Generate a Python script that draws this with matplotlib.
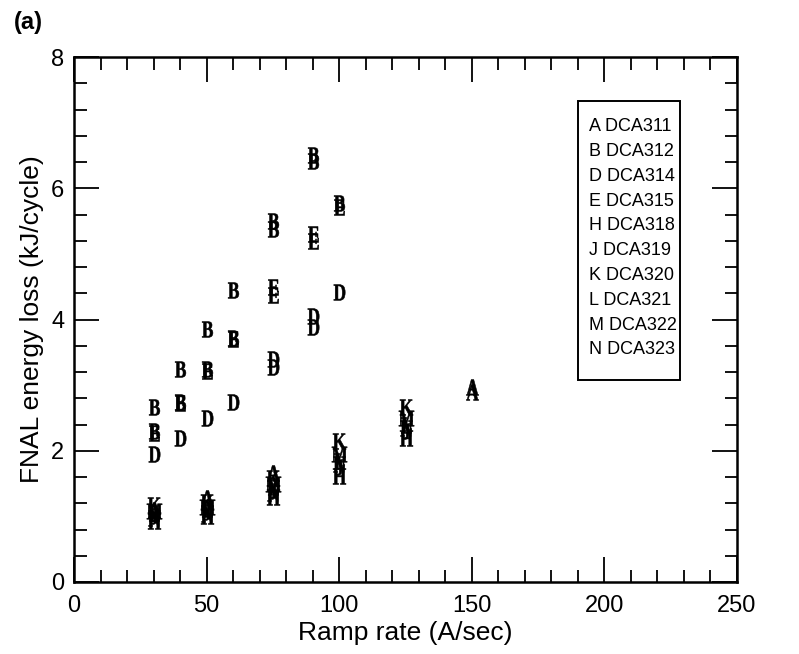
import numpy as np
import matplotlib.pyplot as plt
from matplotlib.ticker import MultipleLocator
from matplotlib.patches import Rectangle
from matplotlib.textpath import TextPath
from matplotlib.font_manager import FontProperties
from matplotlib.transforms import Affine2D

# letter marker -> magnet name
series_letters = ['A', 'B', 'D', 'E', 'H', 'J', 'K', 'L', 'M', 'N']
series_names = ['DCA311', 'DCA312', 'DCA314', 'DCA315', 'DCA318',
                'DCA319', 'DCA320', 'DCA321', 'DCA322', 'DCA323']

# ramp rate (A/sec) and energy loss (kJ/cycle) per magnet
a_x = [30, 50, 75, 150, 150]
a_y = [1.10, 1.28, 1.66, 2.97, 2.90]
b_x = [30, 30, 40, 40, 50, 50, 60, 60, 75, 75, 90, 90, 100]
b_y = [2.66, 2.30, 3.25, 2.75, 3.85, 3.25, 4.45, 3.72, 5.50, 5.38, 6.50, 6.42, 5.78]
d_x = [30, 40, 50, 60, 75, 75, 90, 90, 100]
d_y = [1.95, 2.20, 2.50, 2.75, 3.40, 3.28, 4.05, 3.88, 4.42]
e_x = [30, 40, 50, 60, 75, 75, 90, 90, 100]
e_y = [2.27, 2.73, 3.22, 3.70, 4.50, 4.38, 5.30, 5.20, 5.72]
h_x = [30, 50, 75, 100, 125]
h_y = [0.93, 1.00, 1.30, 1.62, 2.20]
j_x = [30, 50, 75, 100, 125]
j_y = [1.00, 1.07, 1.38, 1.75, 2.30]
k_x = [30, 50, 75, 100, 125]
k_y = [1.17, 1.22, 1.58, 2.15, 2.66]
l_x = [30, 50, 75, 100, 125]
l_y = [1.05, 1.12, 1.45, 1.85, 2.40]
m_x = [30, 50, 75, 100, 125]
m_y = [1.08, 1.15, 1.50, 1.95, 2.50]
n_x = [30, 50, 75, 100, 125]
n_y = [0.98, 1.04, 1.35, 1.80, 2.35]

all_x = [a_x, b_x, d_x, e_x, h_x, j_x, k_x, l_x, m_x, n_x]
all_y = [a_y, b_y, d_y, e_y, h_y, j_y, k_y, l_y, m_y, n_y]

plt.rcParams['font.family'] = ['Liberation Sans', 'DejaVu Sans']

serif_bold = FontProperties(family='Liberation Serif', weight='bold')

def letter_marker(letter):
  """Narrow bold serif letter as a marker path"""
  p = TextPath((0, 0), letter, size=1, prop=serif_bold)
  ext = p.get_extents()
  cx = (ext.x0 + ext.x1) / 2
  cy = (ext.y0 + ext.y1) / 2
  return p.transformed(Affine2D().translate(-cx, -cy).scale(0.72, 1.0))

fig = plt.figure(figsize=(7.99, 6.54), dpi=100)
ax = fig.add_axes([74/799, 1 - 582/654, 663/799, 525/654])

for letter, xs, ys in zip(series_letters, all_x, all_y):
  ax.scatter(xs, ys, marker=letter_marker(letter), s=130, color='black',
             linewidths=0.4, edgecolors='black', zorder=3)

ax.set_xlim(0, 250)
ax.set_ylim(0, 8)
ax.xaxis.set_major_locator(MultipleLocator(50))
ax.xaxis.set_minor_locator(MultipleLocator(10))
ax.yaxis.set_major_locator(MultipleLocator(2))
ax.yaxis.set_minor_locator(MultipleLocator(0.4))
ax.tick_params(which='both', direction='in', top=True, right=True, width=1.3)
ax.tick_params(which='major', length=18, labelsize=17)
ax.tick_params(axis='x', which='major', pad=9)
ax.tick_params(axis='y', which='major', pad=7)
ax.tick_params(which='minor', length=9)
for s in ax.spines.values():
  s.set_linewidth(1.8)

ax.set_xlabel('Ramp rate (A/sec)', fontsize=19, labelpad=3)
ax.set_ylabel('FNAL energy loss (kJ/cycle)', fontsize=19, labelpad=5)

# legend box with letter key
ax.add_patch(Rectangle((0.760, 0.385), 0.154, 0.531, transform=ax.transAxes,
                       fill=False, linewidth=1.4, edgecolor='black', zorder=4))
for i, (letter, name) in enumerate(zip(series_letters, series_names)):
  ax.text(0.777, 0.867 - i * 0.0472, f'{letter} {name}', transform=ax.transAxes,
          fontsize=13, va='center', ha='left')

fig.text(14/799, 1 - 23/654, '(a)', fontsize=17, fontweight='bold', va='center')

fig.savefig('out.png', dpi=100)
